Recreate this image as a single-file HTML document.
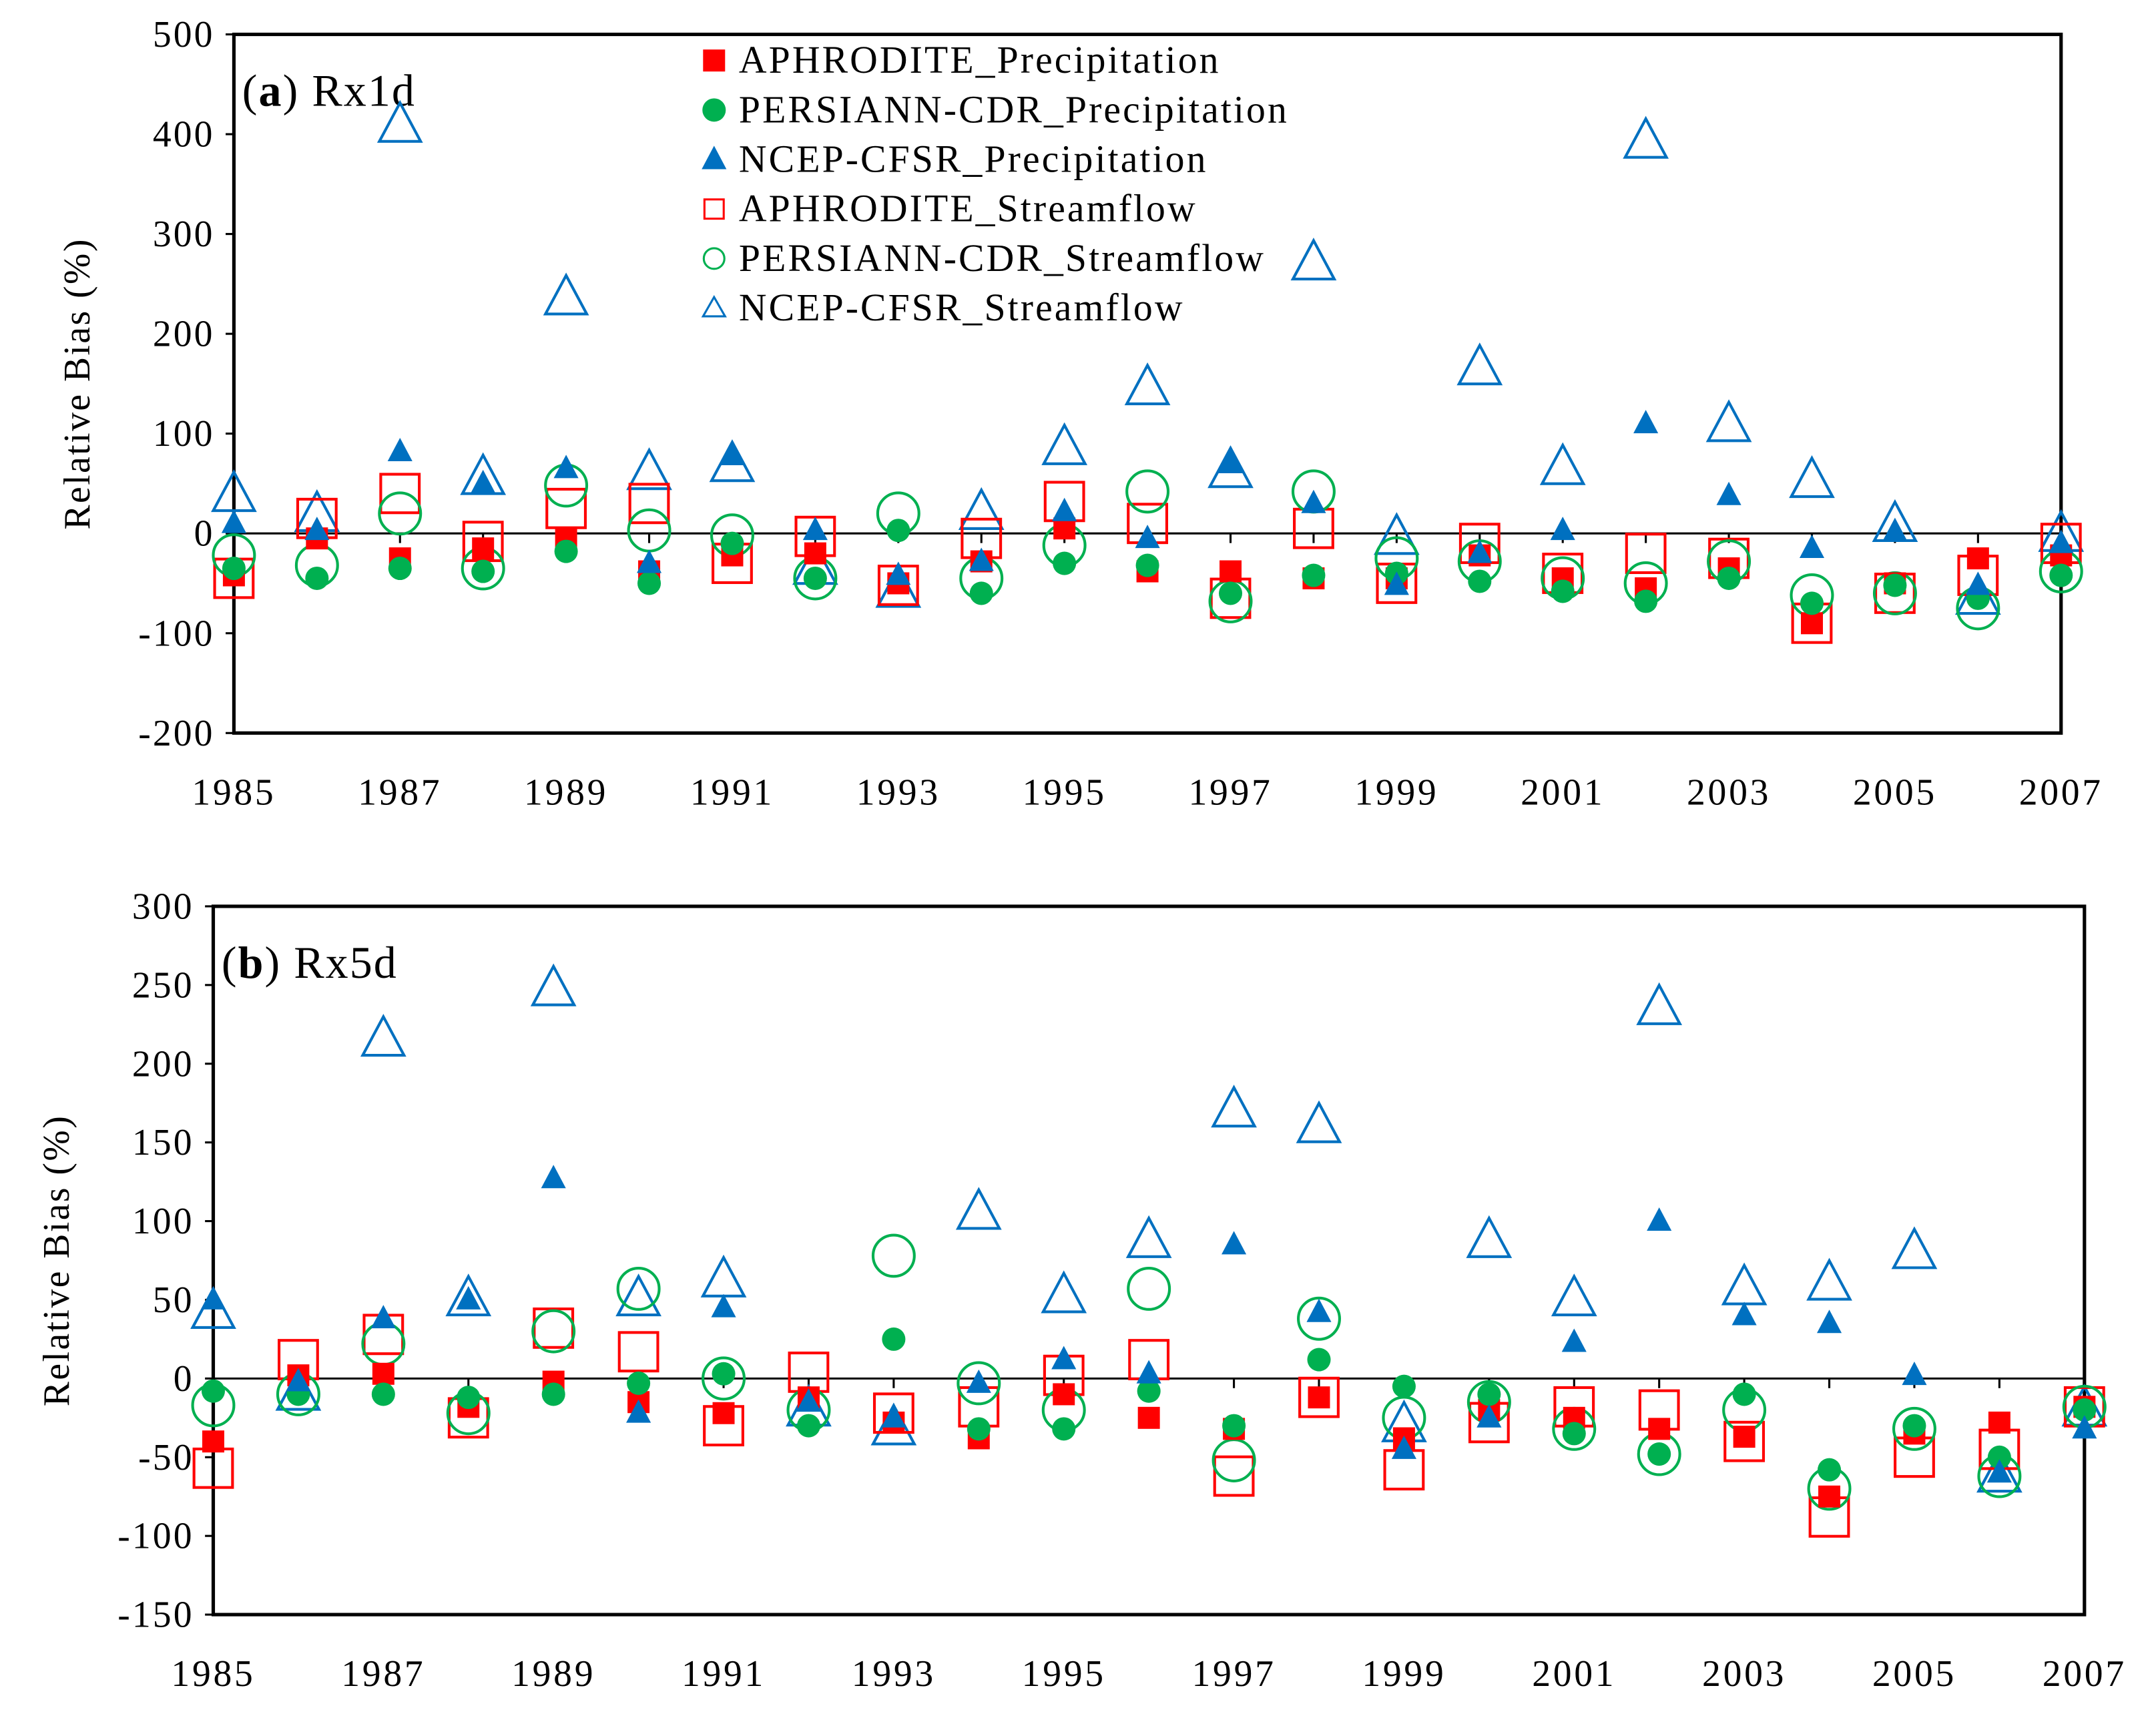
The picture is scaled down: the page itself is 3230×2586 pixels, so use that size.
<!DOCTYPE html>
<html><head><meta charset="utf-8"><style>
html,body{margin:0;padding:0;background:#fff;}
svg{display:block;font-family:"Liberation Serif",serif;}
</style></head><body>
<svg id="chart" width="3230" height="2586" viewBox="0 0 1567 1255" preserveAspectRatio="none" xmlns="http://www.w3.org/2000/svg"></svg>
<script>
const years=[1985,1986,1987,1988,1989,1990,1991,1992,1993,1994,1995,1996,1997,1998,1999,2000,2001,2002,2003,2004,2005,2006,2007];
const seriesNames=["APHRODITE_Precipitation","PERSIANN-CDR_Precipitation","NCEP-CFSR_Precipitation","APHRODITE_Streamflow","PERSIANN-CDR_Streamflow","NCEP-CFSR_Streamflow"];
const a_aphP=[-42,-5,-25,-15,-5,-38,-22,-20,-50,-28,5,-38,-38,-45,-45,-22,-45,-55,-35,-90,-50,-25,-22];
const a_perP=[-35,-45,-35,-38,-18,-50,-10,-45,3,-60,-30,-32,-60,-42,-40,-48,-58,-68,-45,-70,-52,-65,-42];
const a_ncpP=[10,3,82,50,65,-30,78,3,-42,-28,22,-5,70,30,-52,-20,3,110,38,-15,2,-52,-10];
const a_aphS=[-45,15,40,-8,25,30,-30,-3,-52,-5,32,10,-65,5,-50,-10,-40,-20,-25,-90,-60,-42,-10];
const a_perS=[-22,-32,20,-35,48,3,-2,-45,20,-45,-12,42,-68,42,-25,-28,-45,-50,-28,-62,-60,-75,-38];
const a_ncpS=[38,18,408,55,235,60,68,-35,-58,20,85,145,62,270,-5,165,65,392,108,52,8,-65,-2];
const b_aphP=[-40,2,3,-18,-2,-15,-22,-12,-28,-38,-10,-25,-32,-12,-38,-20,-25,-32,-37,-75,-35,-28,-18];
const b_perP=[-8,-10,-10,-12,-10,-3,3,-30,25,-32,-32,-8,-30,12,-5,-10,-35,-48,-10,-58,-30,-50,-20];
const b_ncpP=[50,-2,38,50,127,-22,45,-15,-25,-3,12,3,85,42,-45,-25,23,100,40,35,2,-60,-32];
const b_aphS=[-57,12,28,-25,32,17,-30,4,-22,-18,2,12,-62,-12,-58,-28,-18,-20,-40,-88,-50,-45,-18];
const b_perS=[-17,-10,22,-22,30,57,0,-20,78,-3,-20,57,-52,38,-25,-15,-32,-48,-20,-70,-32,-62,-18];
const b_ncpS=[42,-10,215,50,247,50,62,-20,-32,105,52,87,170,160,-30,87,50,235,57,60,80,-62,-20];
const a_yticks=[500,400,300,200,100,0,-100,-200];
const b_yticks=[300,250,200,150,100,50,0,-50,-100,-150];
const xtickYears=[1985,1987,1989,1991,1993,1995,1997,1999,2001,2003,2005,2007];

const NS="http://www.w3.org/2000/svg";
const svg=document.getElementById('chart');
function el(tag,attrs,parent){const e=document.createElementNS(NS,tag);for(const k in attrs)e.setAttribute(k,attrs[k]);(parent||svg).appendChild(e);return e;}
const RED="#ff0000",GRN="#00b050",BLU="#0070c0";
function marker(g,type,x,y,name){
  let e;
  if(type==0){e=el('rect',{x:x-8,y:y-8,width:16,height:16,fill:RED},g);}
  else if(type==1){e=el('circle',{cx:x,cy:y,r:8.5,fill:GRN},g);}
  else if(type==2){e=el('path',{d:`M${x},${y-10}L${x+9},${y+7}L${x-9},${y+7}Z`,fill:BLU},g);}
  else if(type==3){e=el('rect',{x:x-14,y:y-14,width:28,height:28,fill:"none",stroke:RED,"stroke-width":2},g);}
  else if(type==4){e=el('circle',{cx:x,cy:y,r:15,fill:"none",stroke:GRN,"stroke-width":2},g);}
  else {e=el('path',{d:`M${x},${y-17}L${x+15},${y+11}L${x-15},${y+11}Z`,fill:"none",stroke:BLU,"stroke-width":2},g);}
  
  
  return e;
}
function panel(p){
  const g=el('g',{});
  
  
  const X=yr=>p.x0+(yr-1985)*(p.x1-p.x0)/22;
  const Y=v=>p.y0+(p.ymax-v)*(p.y1-p.y0)/(p.ymax-p.ymin);
  const frame=el('rect',{x:p.x0,y:p.y0,width:p.x1-p.x0,height:p.y1-p.y0,fill:"none",stroke:"#000","stroke-width":2.5},g);
  
  const z=el('line',{x1:p.x0,x2:p.x1,y1:Y(0),y2:Y(0),stroke:"#000","stroke-width":1.5},g);
  
  years.forEach(yr=>{el('line',{x1:X(yr),x2:X(yr),y1:Y(0),y2:Y(0)+7,stroke:"#000","stroke-width":1.5},g);});
  p.yticks.forEach(v=>{
    el('line',{x1:p.x0-6,x2:p.x0,y1:Y(v),y2:Y(v),stroke:"#000","stroke-width":1.5},g);
    const t=el('text',{x:p.x0-14,y:Y(v)+9,"text-anchor":"end","font-size":27,"letter-spacing":1.5},g);t.textContent=v;
    
  });
  xtickYears.forEach(yr=>{
    const t=el('text',{x:X(yr),y:p.y1+52,"text-anchor":"middle","font-size":27,"letter-spacing":1.8},g);t.textContent=yr;
    
  });
  const yt=el('text',{x:0,y:0,"text-anchor":"middle","font-size":27,"letter-spacing":1.2,transform:`translate(${p.ytx},${(p.y0+p.y1)/2}) rotate(-90)`},g);
  yt.textContent="Relative Bias (%)";
  const ti=el('text',{x:p.x0+6,y:p.y0+52,"font-size":33,"letter-spacing":1},g);
  ti.innerHTML=`(<tspan font-weight="bold">${p.letter}</tspan>) ${p.label}`;
  
  const order=[5,3,4,0,1,2];
  order.forEach(si=>{p.data[si].forEach((v,i)=>marker(g,si,X(years[i]),Y(v),'point-'+seriesNames[si].toLowerCase()));});
}
panel({name:'panel-a-rx1d',x0:170,x1:1498,y0:25,y1:533,ymax:500,ymin:-200,yticks:a_yticks,ytx:65,letter:'a',label:'Rx1d',data:[a_aphP,a_perP,a_ncpP,a_aphS,a_perS,a_ncpS]});
panel({name:'panel-b-rx5d',x0:155,x1:1515,y0:659,y1:1174,ymax:300,ymin:-150,yticks:b_yticks,ytx:50,letter:'b',label:'Rx5d',data:[b_aphP,b_perP,b_ncpP,b_aphS,b_perS,b_ncpS]});
// legend
const lg=el('g',{});


seriesNames.forEach((n,i)=>{
  const y=44+i*36;
  const e=el('g',{},lg);
  
  
  if(i<3) marker(e,i,519,y,'legend-marker');
  else {
    if(i==3) el('rect',{x:512,y:y-7,width:14,height:14,fill:"none",stroke:RED,"stroke-width":1.5},e);
    if(i==4) el('circle',{cx:519,cy:y,r:7.5,fill:"none",stroke:GRN,"stroke-width":1.5},e);
    if(i==5) el('path',{d:`M519,${y-8}L527,${y+6}L511,${y+6}Z`,fill:"none",stroke:BLU,"stroke-width":1.5},e);}
  const t=el('text',{x:537,y:y+9,"font-size":28,"letter-spacing":1.5},e);t.textContent=n;
});
</script>
</body></html>
